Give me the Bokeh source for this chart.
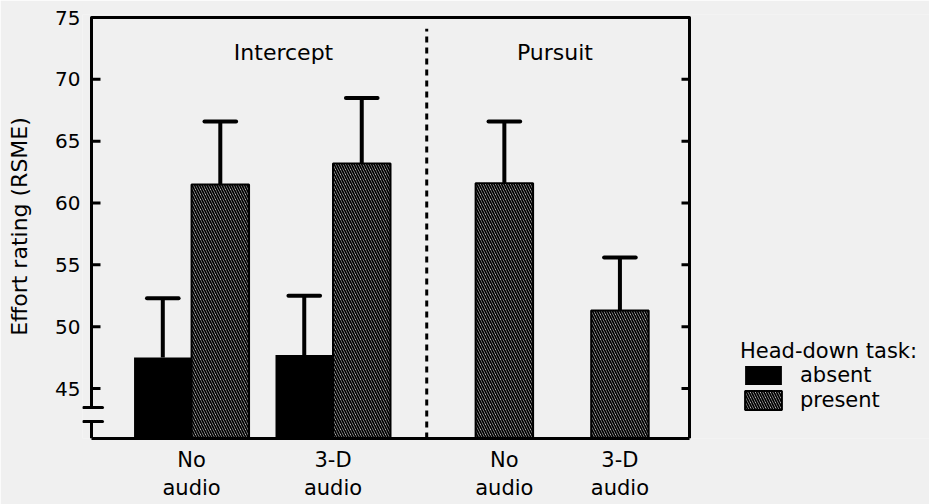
from bokeh.plotting import figure
from bokeh.models import FixedTicker, Range1d, Legend, LegendItem, ColumnDataSource
from bokeh.core.properties import value
from bokeh.embed import file_html
from bokeh.resources import INLINE

# ---------------- data ----------------
conditions = ["No\naudio", "3-D\naudio", "No\naudio", "3-D\naudio"]
task_names = ["Intercept", "Pursuit"]
absent_mean = [47.5, 47.7]            # Intercept only
absent_upper = [52.3, 52.5]
present_mean = [61.5, 63.2, 61.6, 51.3]
present_upper = [66.6, 68.5, 66.6, 55.6]
y_ticks = [45, 50, 55, 60, 65, 70, 75]
y_axis_title = "Effort rating (RSME)"
legend_title = "Head-down task:"
legend_labels = ["absent", "present"]

# ---------------- layout constants ----------------
FONT = "DejaVu Sans"
BG = "#f0f0f0"
PX = 57.5                     # px per x unit (one bar width)
group_x = [1.74, 4.2, 7.18, 9.19]
x_right = 10.4
divider_x = 5.83
task_label_x = [3.34, 8.06]
task_label_y = 72.2
W, H = 929, 504
TOP, BOTTOM, LEFT, RIGHT = 14, 66, 82, 0
X0 = -9 / PX
X1 = X0 + (W - LEFT - RIGHT) / PX
Y1 = 75.243
Y0 = 40.958
break_hi, break_lo = 43.46, 42.33
cap_half = 0.275

p = figure(width=W, height=H, output_backend="svg", toolbar_location=None,
           x_range=Range1d(X0, X1), y_range=Range1d(Y0, Y1),
           min_border_left=LEFT, min_border_right=RIGHT, min_border_top=TOP,
           min_border_bottom=BOTTOM,
           background_fill_color=BG, border_fill_color=BG)
p.outline_line_color = None
p.grid.visible = False

# left axis: labels only
yax = p.yaxis[0]
yax.ticker = FixedTicker(ticks=y_ticks)
yax.axis_line_color = None
yax.major_tick_line_color = None
yax.minor_tick_line_color = None
yax.major_tick_in = 0
yax.major_tick_out = 0
yax.minor_tick_out = 0
yax.major_label_standoff = 2
yax.major_label_text_font = FONT
yax.major_label_text_font_size = "20px"
yax.major_label_text_color = "black"
yax.axis_label = y_axis_title
yax.axis_label_text_font = FONT
yax.axis_label_text_font_size = "22px"
yax.axis_label_text_font_style = "normal"
yax.axis_label_text_color = "black"
yax.axis_label_standoff = 20

# bottom axis: condition labels
xax = p.xaxis[0]
xax.ticker = FixedTicker(ticks=group_x)
xax.major_label_overrides = {gx: c for gx, c in zip(group_x, conditions)}
xax.bounds = (0, x_right)
xax.axis_line_width = 3
xax.axis_line_color = "black"
xax.major_tick_line_color = None
xax.minor_tick_line_color = None
xax.major_tick_in = 0
xax.major_tick_out = 0
xax.minor_tick_out = 0
xax.major_label_standoff = 9
xax.major_label_text_font = FONT
xax.major_label_text_font_size = "21px"
xax.major_label_text_color = "black"

# ---------------- bars ----------------
absent_x = [group_x[0] - 0.5, group_x[1] - 0.5]
present_x = [group_x[0] + 0.5, group_x[1] + 0.5, group_x[2], group_x[3]]

src_a = ColumnDataSource(dict(x=absent_x, top=absent_mean, up=absent_upper))
src_p = ColumnDataSource(dict(x=present_x, top=present_mean, up=present_upper))

r_abs = p.vbar(x="x", top="top", bottom=Y0, width=1.0, source=src_a,
               fill_color="black", line_color=None)
r_pre = p.vbar(x="x", top="top", bottom=Y0, width=1.0, source=src_p,
               fill_color=BG, line_color="black", line_width=2,
               hatch_pattern="\\", hatch_color="black", hatch_scale=5, hatch_weight=1.8)

# error bars
for src in (src_a, src_p):
    p.segment(x0="x", y0="top", x1="x", y1="up", source=src, line_color="black", line_width=4)
    d = src.data
    p.segment(x0=[v - cap_half for v in d["x"]], y0=d["up"],
              x1=[v + cap_half for v in d["x"]], y1=d["up"],
              line_color="black", line_width=4, line_cap="round")

# divider
p.segment(x0=[divider_x], y0=[Y0], x1=[divider_x], y1=[74.1],
          line_color="black", line_width=3, line_dash="6 5")
p.segment(x0=[divider_x], y0=[Y0], x1=[divider_x], y1=[Y0 + 0.45],
          line_color="black", line_width=2)

# task labels
p.text(x=task_label_x, y=[task_label_y] * 2, text=task_names,
       text_font=value(FONT), text_font_size="22px", text_align="center",
       text_baseline="middle", text_color="black")

# frame lines
p.line(x=[0, 0, x_right, x_right], y=[break_hi, 75, 75, Y0],
       line_color="black", line_width=3, line_join="round")
p.line(x=[0, 0], y=[break_lo, Y0], line_color="black", line_width=3)
# axis break marks
p.segment(x0=[-8 / PX] * 2, y0=[break_hi, break_lo], x1=[11 / PX] * 2, y1=[break_hi, break_lo],
          line_color="black", line_width=3, line_cap="round")
# inner ticks (left and right)
tk = y_ticks[:-1]
p.segment(x0=[0] * len(tk), y0=tk, x1=[9 / PX] * len(tk), y1=tk, line_color="black", line_width=3)
p.segment(x0=[x_right - 8 / PX] * len(tk), y0=tk, x1=[x_right] * len(tk), y1=tk,
          line_color="black", line_width=3)

# legend (screen px from the frame's bottom-left)
legend = Legend(items=[LegendItem(label=legend_labels[0], renderers=[r_abs]),
                       LegendItem(label=legend_labels[1], renderers=[r_pre])],
                title=legend_title, title_text_font=FONT, title_text_font_size="21px",
                title_text_font_style="normal", title_text_color="black", title_standoff=0,
                label_text_font=FONT, label_text_font_size="21px", label_text_color="black",
                glyph_width=46, glyph_height=24, label_standoff=14, spacing=1,
                padding=0, margin=0, border_line_color=None, background_fill_alpha=0,
                location=(658, 26))
p.add_layout(legend, "center")

open("out.html", "w").write(file_html(p, INLINE))
